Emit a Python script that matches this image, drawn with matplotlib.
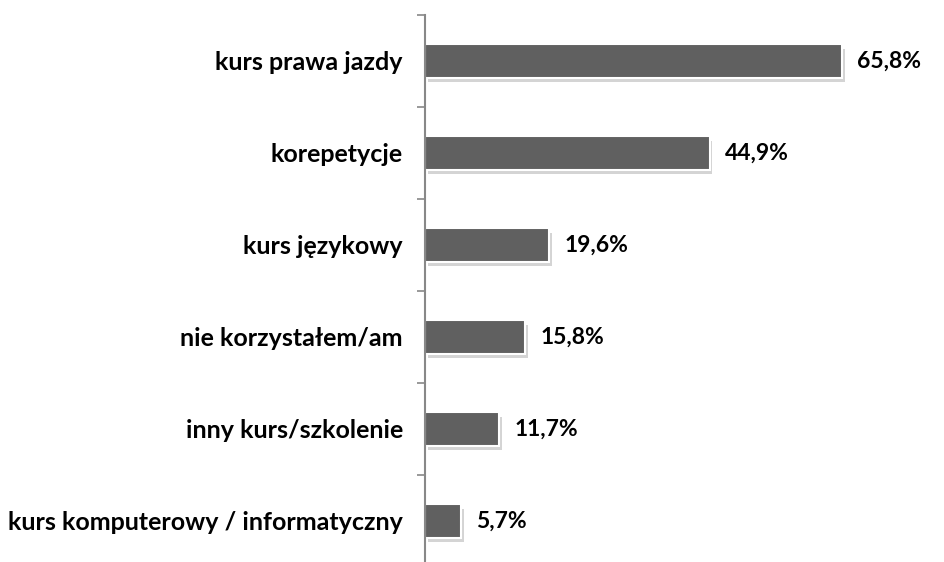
import matplotlib.pyplot as plt
import matplotlib.patheffects as pe

# Data
categories = [
    "kurs prawa jazdy",
    "korepetycje",
    "kurs językowy",
    "nie korzystałem/am",
    "inny kurs/szkolenie",
    "kurs komputerowy / informatyczny",
]
values = [65.8, 44.9, 19.6, 15.8, 11.7, 5.7]
value_labels = ["65,8%", "44,9%", "19,6%", "15,8%", "11,7%", "5,7%"]

plt.rcParams["font.family"] = ["Lato", "DejaVu Sans"]

W, H = 945, 562
fig = plt.figure(figsize=(W / 100, H / 100), dpi=100)

# axes placed in pixel terms: spine at x=425, top boundary y=15, bottom y=567
ax_left = 425 / W
ax_top = (H - 15) / H
ax_bottom = (H - 567) / H
ax = fig.add_axes([ax_left, ax_bottom, 1 - ax_left, ax_top - ax_bottom])

px_per_unit = 417 / 65.8
ax.set_xlim(0, (W - 425) / px_per_unit)
ax.set_ylim(len(categories) - 0.5, -0.5)

ypos = list(range(len(categories)))
bars = ax.barh(ypos, values, height=0.36, color="#606060",
               edgecolor="white", linewidth=1.5)
for b in bars:
    b.set_path_effects([
        pe.SimplePatchShadow(offset=(2, -3), shadow_rgbFace="#aaaaaa", alpha=0.5),
        pe.Normal(),
    ])

for y, v, lab in zip(ypos, values, value_labels):
    ax.annotate(lab, xy=(v, y), xytext=(11, 0), textcoords="offset points",
                va="center", ha="left", fontsize=16.5, fontweight="bold", color="black")

ax.set_yticks(ypos)
ax.set_yticklabels(categories, fontsize=18, fontweight="bold")
ax.tick_params(axis="y", which="major", length=0, pad=16)
ax.set_yticks([i - 0.5 for i in range(len(categories) + 1)], minor=True)
ax.tick_params(axis="y", which="minor", length=6, width=1.2, color="#888888")

ax.set_xticks([])
for s in ["top", "right", "bottom"]:
    ax.spines[s].set_visible(False)
ax.spines["left"].set_color("#888888")
ax.spines["left"].set_linewidth(1.5)

fig.savefig("out.png", dpi=100)
